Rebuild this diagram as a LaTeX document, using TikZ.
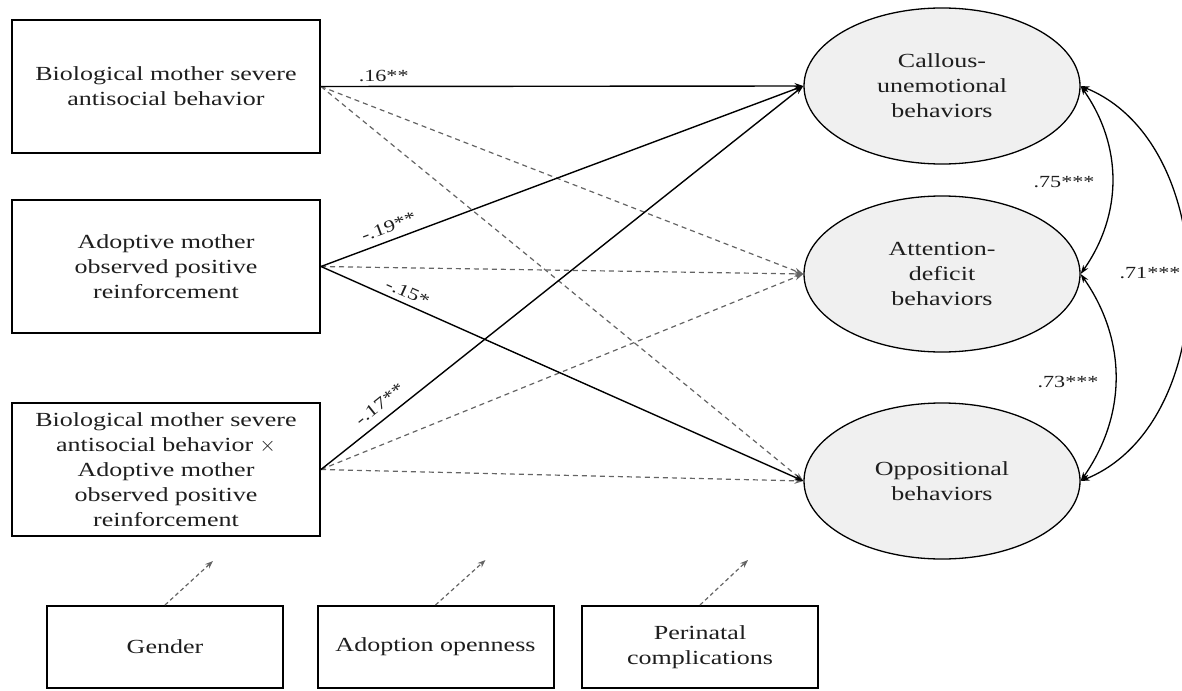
\documentclass[tikz,border=0pt]{standalone}
\usepackage{fontspec}
\setmainfont{Liberation Serif}[FakeStretch=1.3]
\usepackage{tikz}
\usetikzlibrary{shapes.geometric, arrows.meta, positioning, calc}
\definecolor{cText}{RGB}{30,30,30}
\definecolor{cDash}{RGB}{100,100,100}
\definecolor{cFill}{RGB}{240,240,240}
\tikzset{
	obsvar/.style   ={rectangle, draw=black, line width=2pt, minimum width=308pt, minimum height=133pt, align=center, text=cText, font=\fontsize{20}{25}\selectfont},
	ctrlvar/.style  ={rectangle, draw=black, line width=2pt, minimum width=236pt, minimum height=82pt, align=center, text=cText, font=\fontsize{20}{25}\selectfont},
	latentvar/.style={ellipse, draw=black, line width=1.3pt, fill=cFill, minimum width=276pt, minimum height=156pt, align=center, text=cText, font=\fontsize{20}{25}\selectfont},
	coef/.style     ={text=cText, font=\fontsize{17}{20}\selectfont, inner sep=1pt},
	sigpath/.style  ={-{Stealth[length=9pt, width=6pt]}, line width=1.4pt},
	nspath/.style   ={-{Stealth[length=9pt, width=6pt]}, line width=1.2pt, cDash, dash pattern=on 5pt off 4pt},
	covpath/.style  ={{Stealth[length=9pt, width=6pt]}-{Stealth[length=9pt, width=6pt]}, line width=1.3pt},
	ctrlpath/.style ={-{Stealth[length=8pt, width=6pt]}, line width=1.2pt, cDash, dash pattern=on 4pt off 3pt},
}
\begin{document}
\begin{tikzpicture}[x=1pt, y=1pt]
	\useasboundingbox (0,0) rectangle (1182,-690);
	% predictors
	\node[obsvar] (bio) at (166,-86.5) {Biological mother severe\\antisocial behavior};
	\node[obsvar] (adopt) at (166,-266.5) {Adoptive mother\\observed positive\\reinforcement};
	\node[obsvar] (inter) at (166,-469.5) {Biological mother severe\\antisocial behavior $\times$\\Adoptive mother\\observed positive\\reinforcement};
	% outcomes
	\node[latentvar] (cu) at (942,-86) {Callous-\\unemotional\\behaviors};
	\node[latentvar] (ad) at (942,-274) {Attention-\\deficit\\behaviors};
	\node[latentvar] (op) at (942,-481) {Oppositional\\behaviors};
	% covariates
	\node[ctrlvar] (gen) at (165,-647) {Gender};
	\node[ctrlvar] (open) at (435.5,-647) {Adoption openness};
	\node[ctrlvar] (peri) at (700,-647) {Perinatal\\complications};
	\coordinate (gentip) at ($(gen.north)+(48,44)$);
	\coordinate (opentip) at ($(open.north)+(50,45)$);
	\coordinate (peritip) at ($(peri.north)+(48,45)$);

	% paths
	\draw[nspath] (bio.east) -- (ad.west);
	\draw[nspath] (bio.east) -- (op.west);
	\draw[nspath] (adopt.east) -- (ad.west);
	\draw[nspath] (inter.east) -- (ad.west);
	\draw[nspath] (inter.east) -- (op.west);
	\draw[sigpath] (bio.east) -- (cu.west) node[coef, pos=0.13, above=3pt] (c16) {.16**};
	\draw[sigpath] (adopt.east) -- (cu.west) node[coef, pos=0.15, sloped, above=6pt] (c19) {-.19**};
	\draw[sigpath] (adopt.east) -- (op.west) node[coef, pos=0.17, sloped, above=4pt] (c15) {-.15*};
	\draw[sigpath] (inter.east) -- (cu.west) node[coef, pos=0.14, sloped, above=7pt] (c17) {-.17**};

	% covariances
	\draw[covpath] (cu.east) to[bend left=35] (ad.east);
	\draw[covpath] (ad.east) to[bend left=35] (op.east);
	\draw[covpath] (cu.east) to[bend left=68] (op.east);
	\node[coef] (r75) at (1064,-182) {.75***};
	\node[coef] (r73) at (1068,-382) {.73***};
	\node[coef] (r71) at (1150,-273) {.71***};

	\draw[ctrlpath] (gen.north) -- (gentip);
	\draw[ctrlpath] (open.north) -- (opentip);
	\draw[ctrlpath] (peri.north) -- (peritip);
\end{tikzpicture}
\end{document}
